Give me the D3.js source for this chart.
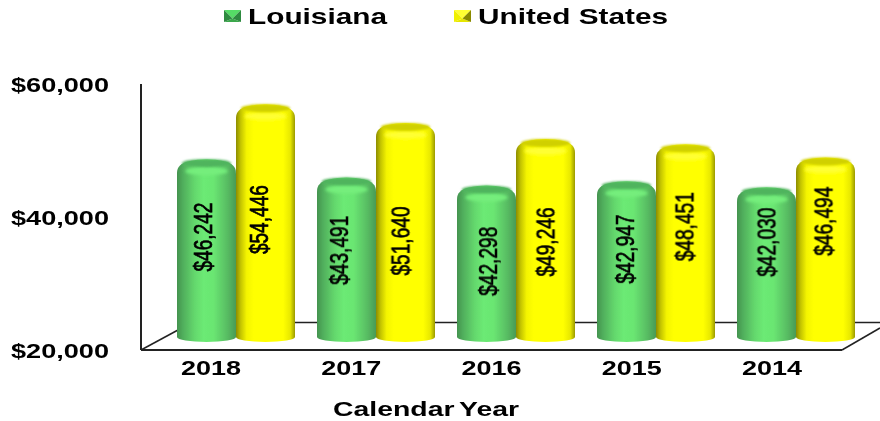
<!DOCTYPE html>
<html>
<head>
<meta charset="utf-8">
<script src="https://cdn.jsdelivr.net/npm/d3@7"></script>
<style>
html, body { margin: 0; padding: 0; background: #fff; }
svg { display: block; }
text { font-family: "Liberation Sans", Arial, sans-serif; font-weight: bold; fill: #000; }
</style>
</head>
<body>
<svg width="880" height="421"></svg>
<script>
var years = ["2018", "2017", "2016", "2015", "2014"];
var seriesNames = ["Louisiana", "United States"];
var louisiana = [46242, 43491, 42298, 42947, 42030];
var unitedStates = [54446, 51640, 49246, 48451, 46494];
var yTicks = [20000, 40000, 60000];

var svg = d3.select("svg");
var fmt = d3.format("$,");

var colors = {
  "Louisiana": {
    body: [[0, "#44934f"], [10, "#50ae5c"], [30, "#64d86d"], [45, "#6cea74"], [62, "#6ae672"], [85, "#58bd63"], [100, "#4a9a56"]],
    cap: "#50b45d", glow: "#74ee7c",
    swatch: ["#55dc66", "#3aa84c", "#2f8a3f", "#2f8a3f"]
  },
  "United States": {
    body: [[0, "#8c8c00"], [8, "#c4c400"], [18, "#f4f400"], [30, "#ffff00"], [80, "#ffff00"], [92, "#e8e800"], [100, "#9a9a00"]],
    cap: "#d0d000", glow: "#ffff30",
    swatch: ["#ffff33", "#e6e600", "#f0f000", "#8a8a00"]
  }
};

// front plane carries the axes, back plane the bars (fake 3d offset)
var xFront = d3.scaleBand().domain(years).range([141, 842]);
var yFront = d3.scaleLinear().domain([20000, 60000]).range([350, 84]);
var xBack = d3.scaleBand().domain(years).range([166, 866]).paddingInner(22 / 140).paddingOuter(11 / 140);
var xSeries = d3.scaleBand().domain(seriesNames).range([0, xBack.bandwidth()]);
var yBack = d3.scaleLinear().domain([20000, 60000]).range([335, 67]);

var defs = svg.append("defs");
seriesNames.forEach(function(name, i) {
  var c = colors[name];
  var g = defs.append("linearGradient").attr("id", "body" + i);
  c.body.forEach(function(s) {
    g.append("stop").attr("offset", s[0] + "%").attr("stop-color", s[1]);
  });
});
defs.append("filter").attr("id", "soft").append("feGaussianBlur").attr("stdDeviation", 0.4);
defs.append("filter").attr("id", "softer")
  .attr("x", "-20%").attr("y", "-60%").attr("width", "140%").attr("height", "220%")
  .append("feGaussianBlur").attr("stdDeviation", 1.6);
defs.append("filter").attr("id", "lidblur")
  .attr("x", "-20%").attr("y", "-60%").attr("width", "140%").attr("height", "220%")
  .append("feGaussianBlur").attr("stdDeviation", 1);

// floor and walls
var floorLines = [
  [[141, 84], [141, 350]],
  [[141, 350], [842, 350]],
  [[141, 350], [178, 330]],
  [[842, 350], [880, 328]],
  [[178, 322.5], [880, 322.5]]
];
svg.append("g").attr("filter", "url(#soft)").selectAll("path").data(floorLines).enter().append("path")
  .attr("d", d3.line())
  .attr("fill", "none")
  .attr("stroke", "#222")
  .attr("stroke-width", function(d, i) { return i < 2 ? 2 : 1.5; });

// y axis labels, domain drawn above
var yAxis = svg.append("g").attr("transform", "translate(109,0)").attr("filter", "url(#soft)")
  .call(d3.axisLeft(yFront).tickValues(yTicks).tickFormat(fmt).tickSize(0).tickPadding(0));
yAxis.select(".domain").remove();
yAxis.selectAll("text")
  .attr("font-size", 20)
  .attr("textLength", 98)
  .attr("lengthAdjust", "spacingAndGlyphs")
  .attr("x", -98)
  .attr("dy", "0.38em")
  .style("text-anchor", "start");

// x axis labels
var xAxis = svg.append("g").attr("transform", "translate(0,368)").attr("filter", "url(#soft)")
  .call(d3.axisBottom(xFront).tickSize(0).tickPadding(0));
xAxis.select(".domain").remove();
xAxis.selectAll("text")
  .attr("font-size", 20)
  .attr("textLength", 60)
  .attr("lengthAdjust", "spacingAndGlyphs")
  .attr("y", 0)
  .attr("dy", "0.36em");

svg.append("text").attr("x", 426).attr("y", 416)
  .attr("text-anchor", "middle")
  .attr("font-size", 20)
  .attr("word-spacing", -2)
  .attr("filter", "url(#soft)")
  .attr("textLength", 186)
  .attr("lengthAdjust", "spacingAndGlyphs")
  .text("Calendar Year");

// cylinder outline, rounded shoulders and a curved base
function cylinderPath(x, w, top, bottom) {
  return "M" + x + "," + bottom +
    "L" + x + "," + (top + 14) +
    "C" + x + "," + (top + 7) + " " + (x + 4) + "," + (top + 4) + " " + (x + w * 0.2) + "," + (top + 2) +
    "C" + (x + w * 0.38) + "," + (top - 0.7) + " " + (x + w * 0.62) + "," + (top - 0.7) + " " + (x + w * 0.8) + "," + (top + 2) +
    "C" + (x + w - 4) + "," + (top + 4) + " " + (x + w) + "," + (top + 7) + " " + (x + w) + "," + (top + 14) +
    "L" + (x + w) + "," + bottom +
    "A" + (w / 2) + ",5 0 0 1 " + x + "," + bottom + "Z";
}

seriesNames.forEach(function(name, i) {
  var values = i == 0 ? louisiana : unitedStates;
  var c = colors[name];
  var rows = years.map(function(y, j) { return { year: y, value: values[j] }; });
  var g = svg.append("g").attr("class", "series").attr("filter", "url(#soft)");
  var bar = g.selectAll("g").data(rows).enter().append("g");
  var w = xSeries.bandwidth();
  function cx(d) { return xBack(d.year) + xSeries(name) + w / 2; }

  bar.append("path")
    .attr("d", function(d) {
      return cylinderPath(xBack(d.year) + xSeries(name), w, yBack(d.value), 337);
    })
    .attr("fill", "url(#body" + i + ")");

  // bright band just under the lid
  bar.append("ellipse")
    .attr("cx", cx)
    .attr("cy", function(d) { return yBack(d.value) + 12; })
    .attr("rx", w * 0.36)
    .attr("ry", 4)
    .attr("fill", c.glow)
    .attr("filter", "url(#softer)");

  // lid
  bar.append("ellipse")
    .attr("cx", cx)
    .attr("cy", function(d) { return yBack(d.value) + 4; })
    .attr("rx", w * 0.42)
    .attr("ry", 4)
    .attr("fill", c.cap)
    .attr("filter", "url(#lidblur)");
});

// value labels were placed by hand in the original, so each one is nudged off its bar centre
var labelDx = [[-3.5, -7.5, 1.5, -1.5, 0], [-6, -5, 0, -1, -2]];
var labelDy = [[-10, -6, 1, -9, -19], [0, 12, 5, -13, -25]];
seriesNames.forEach(function(name, i) {
  var values = i == 0 ? louisiana : unitedStates;
  svg.append("g").attr("filter", "url(#soft)").selectAll("text").data(values).enter().append("text")
    .attr("transform", function(d, j) {
      var x = xBack(years[j]) + xSeries(name) + xSeries.bandwidth() / 2 + labelDx[i][j];
      var y = (yBack(d) + yBack(20000)) / 2 + labelDy[i][j];
      return "translate(" + x + "," + y + ") rotate(-90)";
    })
    .attr("text-anchor", "middle")
    .attr("dy", "0.35em")
    .attr("font-size", 25)
    .style("font-family", '"Liberation Sans Narrow", "Liberation Sans", sans-serif')
    .style("font-weight", "normal")
    .attr("stroke", "#000")
    .attr("stroke-width", 0.7)
    .attr("textLength", 69)
    .attr("lengthAdjust", "spacingAndGlyphs")
    .text(fmt);
});

// legend
var legendX = d3.scalePoint().domain(seriesNames).range([224, 454]);
var legend = svg.append("g").attr("filter", "url(#soft)").selectAll("g").data(seriesNames).enter().append("g")
  .attr("transform", function(d) { return "translate(" + legendX(d) + ",10)"; });

legend.each(function(name) {
  var c = colors[name], s = d3.select(this), w = 17, h = 12;
  var tris = [
    [[0, 0], [w, 0], [w / 2, h * 0.7]],
    [[0, h], [w, h], [w / 2, h * 0.7]],
    [[0, 0], [0, h], [w / 2, h * 0.7]],
    [[w, 0], [w, h], [w / 2, h * 0.7]]
  ];
  s.selectAll("path").data(tris).enter().append("path")
    .attr("d", function(t) { return d3.line()(t) + "Z"; })
    .attr("fill", function(t, k) { return c.swatch[k]; });
});
legend.append("text")
  .attr("x", 24)
  .attr("y", 14)
  .attr("font-size", 22)
  .attr("textLength", function(d) { return d == "Louisiana" ? 139 : 190; })
  .attr("lengthAdjust", "spacingAndGlyphs")
  .text(function(d) { return d; });
</script>
</body>
</html>
